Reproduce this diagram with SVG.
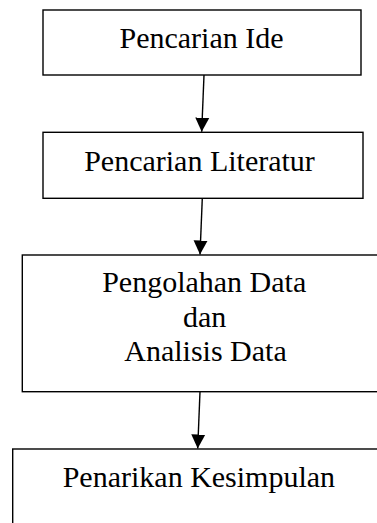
<svg xmlns="http://www.w3.org/2000/svg" width="377" height="523" viewBox="0 0 377 523">
<style>
.box{fill:#fff;stroke:#000;stroke-width:1.4}
.lbl{font-family:"Liberation Serif","Times New Roman",serif;font-size:30px;fill:#000;text-anchor:middle}
.con{stroke:#000;stroke-width:1.4;fill:none}
</style>
<defs>
<marker id="arr" markerUnits="userSpaceOnUse" markerWidth="14" markerHeight="15" refX="14" refY="7" orient="auto" viewBox="0 0 14 14">
<path d="M0,0 L14,7 L0,14 Z" fill="#000"/>
</marker>
</defs>
<rect width="377" height="523" fill="#fff"/>
<g id="node1">
<rect class="box" x="43" y="10" width="318" height="65"/>
<text class="lbl" x="201.5" y="48.3">Pencarian Ide</text>
</g>
<g id="node2">
<rect class="box" x="43" y="132.3" width="320" height="66"/>
<text class="lbl" x="199.5" y="170.7">Pencarian Literatur</text>
</g>
<g id="node3">
<rect class="box" x="22.3" y="255" width="364" height="136.7"/>
<text class="lbl" x="204.2" y="292.3">Pengolahan Data</text>
<text class="lbl" x="204.7" y="327.3">dan</text>
<text class="lbl" x="205.5" y="360.7">Analisis Data</text>
</g>
<g id="node4">
<rect class="box" x="12.7" y="449" width="373" height="90"/>
<text class="lbl" x="198.9" y="487.3">Penarikan Kesimpulan</text>
</g>
<g id="connectors">
<line class="con" x1="204" y1="75" x2="201.7" y2="131.7" marker-end="url(#arr)"/>
<line class="con" x1="202.3" y1="198.3" x2="200" y2="254.5" marker-end="url(#arr)"/>
<line class="con" x1="200" y1="391.7" x2="197.7" y2="448.5" marker-end="url(#arr)"/>
</g>
</svg>
